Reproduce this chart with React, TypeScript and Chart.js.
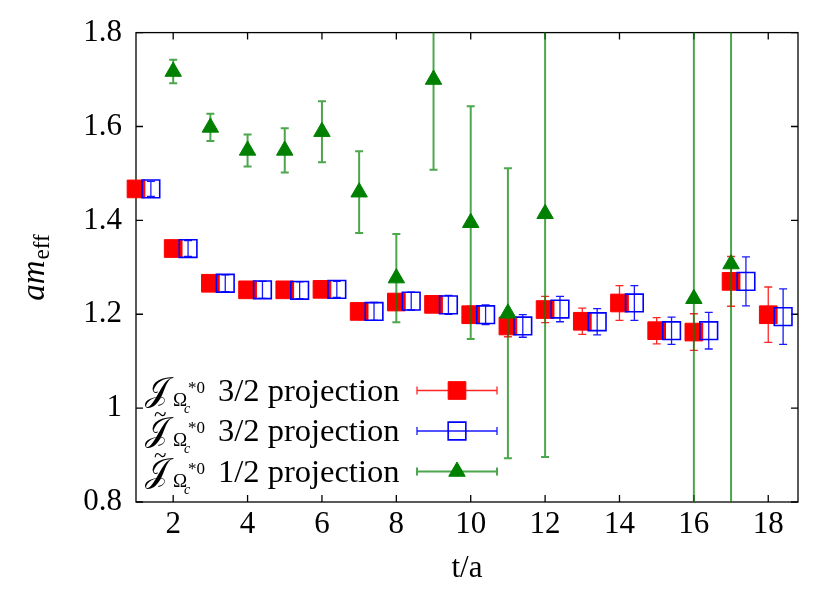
import React, { useEffect, useRef } from 'react';
import { Chart, registerables } from 'chart.js';
import { drawPoint } from 'chart.js/helpers';

Chart.register(...registerables);

// ---------- data ----------
const timeSlices = [1, 2, 3, 4, 5, 6, 7, 8, 9, 10, 11, 12, 13, 14, 15, 16, 17, 18];
const blueOffset = 0.4;
const red32Values = [1.467, 1.340, 1.266, 1.252, 1.252, 1.253, 1.206, 1.226, 1.221, 1.199, 1.175, 1.210, 1.185, 1.224, 1.165, 1.162, 1.270, 1.199];
const red32Errors = [0.012, 0.012, 0.013, 0.013, 0.013, 0.013, 0.015, 0.016, 0.016, 0.018, 0.023, 0.028, 0.028, 0.037, 0.028, 0.039, 0.053, 0.059];
const blue32Values = [1.467, 1.340, 1.266, 1.252, 1.251, 1.253, 1.206, 1.228, 1.220, 1.199, 1.175, 1.211, 1.184, 1.224, 1.165, 1.165, 1.270, 1.195];
const blue32Errors = [0.016, 0.017, 0.018, 0.018, 0.018, 0.017, 0.019, 0.019, 0.020, 0.021, 0.024, 0.027, 0.028, 0.037, 0.029, 0.039, 0.052, 0.059];
const greenTimes = [2, 3, 4, 5, 6, 7, 8, 9, 10, 11, 12, 16, 17];
const green12Values = [1.717, 1.598, 1.549, 1.549, 1.589, 1.460, 1.277, 1.700, 1.395, 1.202, 1.414, 1.233, 1.307];
const green12Errors = [0.025, 0.029, 0.034, 0.047, 0.065, 0.087, 0.094, 0.192, 0.248, 0.309, 0.518, 0.65, 0.6];
const xTickValues = [2, 4, 6, 8, 10, 12, 14, 16, 18];
const yTickValues = [0.8, 1, 1.2, 1.4, 1.6, 1.8];
const seriesLabels = ['3/2 projection', '3/2 projection', '1/2 projection'];
const seriesTilde = [false, true, true];
const xTitle = 't/a';

const SERIF = "'Liberation Serif', 'Times New Roman', serif";
const SCRIPT_J = '\u{1D4A5}';

const styles = [
  { color: '#ff0000', errColor: 'rgba(255,0,0,0.85)', errWidth: 1.3, pointStyle: 'rect', radius: 12.5, fill: '#ff0000', borderWidth: 1 },
  { color: '#0000ff', errColor: 'rgba(0,0,255,0.9)', errWidth: 1.3, pointStyle: 'rect', radius: 12.5, fill: 'rgba(0,0,0,0)', borderWidth: 1.6 },
  { color: '#008000', errColor: 'rgba(0,128,0,0.7)', errWidth: 2, pointStyle: 'triangle', radius: 9.5, fill: '#008000', borderWidth: 1 },
];

const CAP = 4;

const errorBarPlugin = {
  id: 'errorBars',
  beforeDatasetDraw(chart: any, args: any) {
    const ds = chart.data.datasets[args.index];
    const st = styles[ds.styleIndex];
    const { ctx, chartArea, scales } = chart;
    const xs = scales.x;
    const ys = scales.y;
    ctx.save();
    ctx.beginPath();
    ctx.rect(chartArea.left, chartArea.top, chartArea.right - chartArea.left, chartArea.bottom - chartArea.top);
    ctx.clip();
    ctx.strokeStyle = st.errColor;
    ctx.lineWidth = st.errWidth;
    ds.data.forEach((p: any) => {
      const px = xs.getPixelForValue(p.x);
      const top = ys.getPixelForValue(p.y + p.err);
      const bot = ys.getPixelForValue(p.y - p.err);
      ctx.beginPath();
      ctx.moveTo(px, top);
      ctx.lineTo(px, bot);
      ctx.moveTo(px - CAP, top);
      ctx.lineTo(px + CAP, top);
      ctx.moveTo(px - CAP, bot);
      ctx.lineTo(px + CAP, bot);
      ctx.stroke();
    });
    ctx.restore();
  },
};

const framePlugin = {
  id: 'frame',
  beforeDatasetsDraw(chart: any) {
    const { ctx, chartArea, scales } = chart;
    const { left, right, top, bottom } = chartArea;
    ctx.save();
    ctx.strokeStyle = '#000';
    ctx.lineWidth = 1.3;
    ctx.strokeRect(left, top, right - left, bottom - top);
    ctx.beginPath();
    xTickValues.forEach((v) => {
      const px = scales.x.getPixelForValue(v);
      ctx.moveTo(px, bottom);
      ctx.lineTo(px, bottom - 7);
      ctx.moveTo(px, top);
      ctx.lineTo(px, top + 7);
    });
    yTickValues.forEach((v) => {
      const py = scales.y.getPixelForValue(v);
      ctx.moveTo(left, py);
      ctx.lineTo(left + 7, py);
      ctx.moveTo(right, py);
      ctx.lineTo(right - 7, py);
    });
    ctx.stroke();
    ctx.restore();
  },
};

const textPlugin = {
  id: 'texts',
  afterDraw(chart: any) {
    const { ctx, chartArea } = chart;
    ctx.save();
    ctx.fillStyle = '#000';
    ctx.textBaseline = 'alphabetic';

    // x title
    ctx.font = `31px ${SERIF}`;
    ctx.textAlign = 'center';
    ctx.fillText(xTitle, (chartArea.left + chartArea.right) / 2, 577);

    // y title (rotated)
    ctx.save();
    ctx.translate(44, 268);
    ctx.rotate(-Math.PI / 2);
    ctx.textAlign = 'left';
    ctx.font = `italic 33px ${SERIF}`;
    const wAm = ctx.measureText('am').width;
    ctx.font = `23px ${SERIF}`;
    const wEff = ctx.measureText('eff').width;
    const x0 = -(wAm + wEff) / 2;
    ctx.font = `italic 33px ${SERIF}`;
    ctx.fillText('am', x0, 0);
    ctx.font = `23px ${SERIF}`;
    ctx.fillText('eff', x0 + wAm + 1, 5);
    ctx.restore();

    // legend
    const rowCenters = [390.5, 431, 471.5];
    chart.data.datasets.forEach((ds: any, i: number) => {
      const st = styles[ds.styleIndex];
      const cy = rowCenters[i];
      const b = cy + 10;
      ctx.textAlign = 'left';
      ctx.fillStyle = '#000';
      ctx.font = `34px ${SERIF}`;
      ctx.fillText(SCRIPT_J, 145, b);
      if (seriesTilde[i]) {
        ctx.font = `23px ${SERIF}`;
        ctx.fillText('~', 154, b - 19);
      }
      ctx.font = `19px ${SERIF}`;
      ctx.fillText('\u03A9', 173, b + 5);
      ctx.font = `italic 14px ${SERIF}`;
      ctx.fillText('c', 184, b + 12);
      ctx.font = `17px ${SERIF}`;
      ctx.fillText('*0', 188, b - 8);
      ctx.font = `32.5px ${SERIF}`;
      ctx.fillText(seriesLabels[i], 218, b);

      // sample
      ctx.strokeStyle = st.errColor;
      ctx.lineWidth = st.errWidth;
      ctx.beginPath();
      ctx.moveTo(417, cy);
      ctx.lineTo(497, cy);
      ctx.moveTo(417, cy - CAP);
      ctx.lineTo(417, cy + CAP);
      ctx.moveTo(497, cy - CAP);
      ctx.lineTo(497, cy + CAP);
      ctx.stroke();
      ctx.fillStyle = st.fill;
      ctx.strokeStyle = st.color;
      ctx.lineWidth = st.borderWidth;
      drawPoint(ctx, { pointStyle: st.pointStyle as any, radius: st.radius, rotation: 0, borderWidth: st.borderWidth }, 457, cy);
    });
    ctx.restore();
  },
};

export default function App() {
  const canvasRef = useRef<HTMLCanvasElement | null>(null);

  useEffect(() => {
    const canvas = canvasRef.current;
    if (!canvas) return;

    const redData = timeSlices.map((t, i) => ({ x: t, y: red32Values[i], err: red32Errors[i] }));
    const blueData = timeSlices.map((t, i) => ({ x: t + blueOffset, y: blue32Values[i], err: blue32Errors[i] }));
    const greenData = greenTimes.map((t, i) => ({ x: t, y: green12Values[i], err: green12Errors[i] }));

    const mk = (data: any[], idx: number, order: number) => {
      const st = styles[idx];
      return {
        label: seriesLabels[idx],
        data,
        styleIndex: idx,
        order,
        clip: false as any,
        showLine: false,
        pointStyle: st.pointStyle,
        pointRadius: st.radius,
        pointHoverRadius: st.radius,
        pointBackgroundColor: st.fill,
        pointBorderColor: st.color,
        pointBorderWidth: st.borderWidth,
        backgroundColor: st.fill,
        borderColor: st.color,
      };
    };

    const chart = new Chart(canvas, {
      type: 'scatter',
      data: {
        datasets: [mk(redData, 0, 3), mk(blueData, 1, 2), mk(greenData, 2, 1)] as any,
      },
      plugins: [errorBarPlugin, framePlugin, textPlugin],
      options: {
        animation: false,
        responsive: false,
        devicePixelRatio: 1,
        layout: { padding: { top: 32, right: 32, left: 0, bottom: 0 } },
        plugins: { legend: { display: false }, tooltip: { enabled: false } },
        events: [],
        scales: {
          x: {
            type: 'linear',
            min: 1,
            max: 18.8,
            grid: { display: false, drawTicks: false },
            border: { display: false },
            afterBuildTicks: (s: any) => {
              s.ticks = xTickValues.map((v) => ({ value: v }));
            },
            afterFit: (s: any) => {
              s.height = 92;
            },
            ticks: {
              font: { family: SERIF, size: 31 },
              color: '#000',
              padding: 4,
              maxRotation: 0,
              autoSkip: false,
              callback: (v: any) => String(v),
            },
          },
          y: {
            type: 'linear',
            min: 0.8,
            max: 1.8,
            grid: { display: false, drawTicks: false },
            border: { display: false },
            afterBuildTicks: (s: any) => {
              s.ticks = yTickValues.map((v) => ({ value: v }));
            },
            afterFit: (s: any) => {
              s.width = 136;
            },
            ticks: {
              font: { family: SERIF, size: 31 },
              color: '#000',
              padding: 14,
              autoSkip: false,
              callback: (v: any) => String(Number(v)),
            },
          },
        },
      },
    });
    return () => chart.destroy();
  }, []);

  return (
    <div style={{ position: 'fixed', left: 0, top: 0, width: 830, height: 594, background: '#fff' }}>
      <canvas ref={canvasRef} width={830} height={594} style={{ display: 'block' }} />
    </div>
  );
}
